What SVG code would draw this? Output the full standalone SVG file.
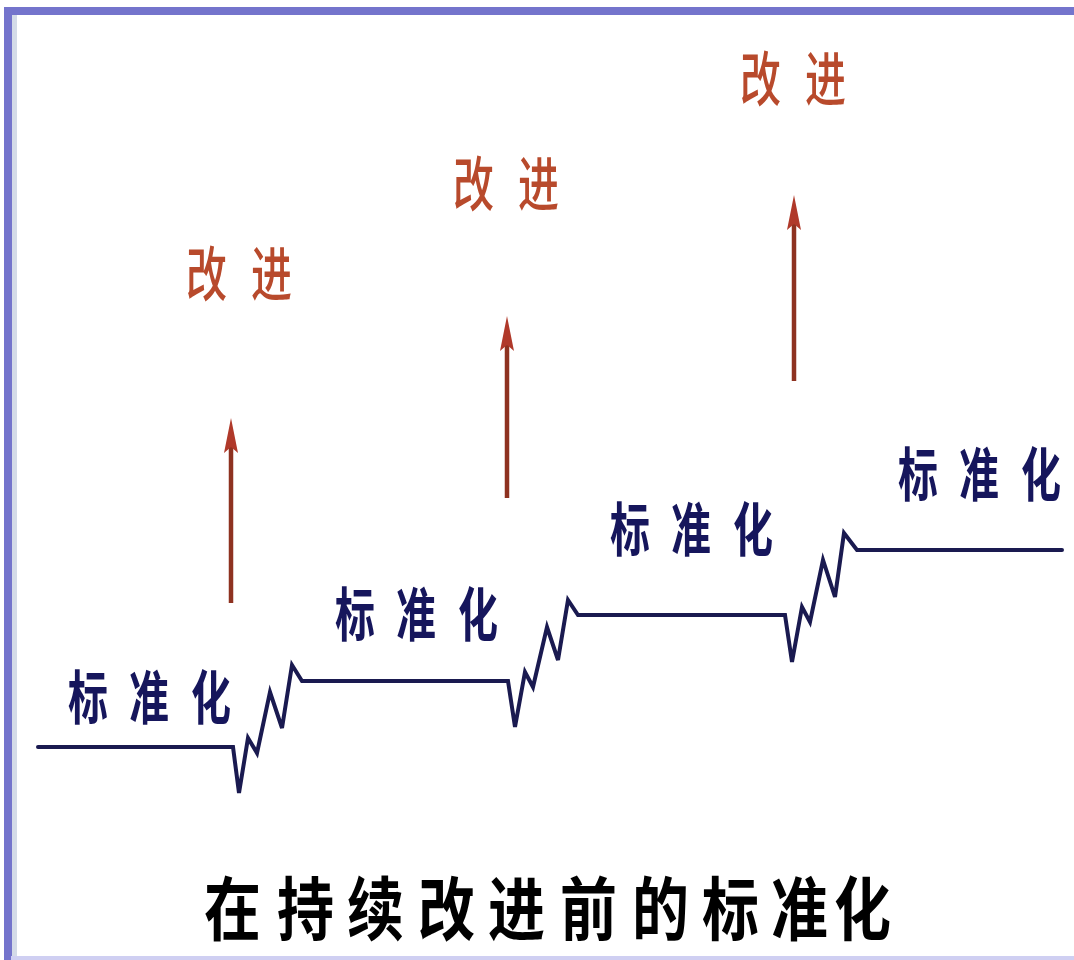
<svg xmlns="http://www.w3.org/2000/svg" width="1074" height="960" viewBox="0 0 1074 960">
<defs>
<style>
.std{font-family:"Noto Sans CJK SC","Noto Sans",sans-serif;font-weight:700;font-size:40px;fill:#16165c;}
.imp{font-family:"Noto Sans CJK SC","Noto Sans",sans-serif;font-weight:500;font-size:41px;fill:#b84a2c;}
.title{font-family:"Noto Sans CJK SC","Noto Sans",sans-serif;font-weight:700;font-size:57px;fill:#000;}
.step{fill:none;stroke:#1a1a50;stroke-width:4;stroke-linejoin:miter;stroke-linecap:round;}
.shaft{stroke:#8e3220;stroke-width:4.5;}
.head{fill:#b0392a;}
</style>
</defs>
<rect x="0" y="0" width="1074" height="960" fill="#ffffff"/>
<!-- frame -->
<rect x="11" y="14" width="6" height="946" fill="#d4dbe8"/>
<rect x="4" y="7" width="1070" height="8" fill="#7474cc"/>
<rect x="4" y="7" width="8" height="953" fill="#7474cc"/>
<rect x="11" y="956" width="1063" height="4" fill="#cfcff2"/>

<g id="connectors">
<polyline class="step" points="38,747 233,747 239,793 248,738 257,753 270,692 282,728 292,665 302,681 498,681 508,681 515,727 525,672 533,687 547,627 558,660 568,600 578,615 785,615 792,662 802,607 810,622 823,560 835,597 844,533 857,550 1062,550"/>
</g>

<g id="arrow1">
<line class="shaft" x1="231" y1="603" x2="231" y2="445"/>
<polygon class="head" points="231,418 238,453 231,447 224,453"/>
</g>
<g id="arrow2">
<line class="shaft" x1="507" y1="498" x2="507" y2="343"/>
<polygon class="head" points="507,316 514,351 507,345 500,351"/>
</g>
<g id="arrow3">
<line class="shaft" x1="794" y1="381" x2="794" y2="222"/>
<polygon class="head" points="794,195 801,230 794,224 787,230"/>
</g>

<g id="std1"><text class="std" transform="translate(68,719) scale(1,1.45)" x="0 61 123" y="0">标准化</text></g>
<g id="std2"><text class="std" transform="translate(335,636) scale(1,1.45)" x="0 61 123" y="0">标准化</text></g>
<g id="std3"><text class="std" transform="translate(610,551) scale(1,1.45)" x="0 61 123" y="0">标准化</text></g>
<g id="std4"><text class="std" transform="translate(898,496) scale(1,1.45)" x="0 61 123" y="0">标准化</text></g>

<g id="imp1"><text class="imp" transform="translate(186,296) scale(1,1.45)" x="0 65" y="0">改进</text></g>
<g id="imp2"><text class="imp" transform="translate(453,206) scale(1,1.45)" x="0 65" y="0">改进</text></g>
<g id="imp3"><text class="imp" transform="translate(740,101) scale(1,1.45)" x="0 65" y="0">改进</text></g>

<g id="title"><text class="title" transform="translate(204,935) scale(1,1.22)" x="0 73 143 214 284 356 428 498 567 630" y="0">在持续改进前的标准化</text></g>
</svg>
